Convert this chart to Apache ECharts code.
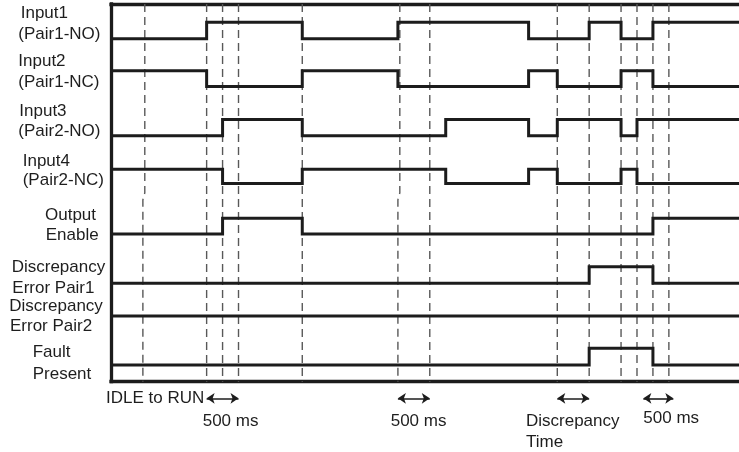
<!DOCTYPE html>
<html>
<head>
<meta charset="utf-8">
<script src="https://cdn.jsdelivr.net/npm/echarts@6/dist/echarts.min.js"></script>
<style>
html,body{margin:0;padding:0;background:#fff;}
#chart{width:739px;height:452px;}
</style>
</head>
<body>
<div id="chart"></div>
<script>
// ---- Data (times in ms) ----
const timeEnd = 9850;
const signalLabels = [
  ['Input1', '(Pair1-NO)'],
  ['Input2', '(Pair1-NC)'],
  ['Input3', '(Pair2-NO)'],
  ['Input4', '(Pair2-NC)'],
  ['Output', 'Enable'],
  ['Discrepancy', 'Error Pair1'],
  ['Discrepancy', 'Error Pair2'],
  ['Fault', 'Present']
];
const input1Start = 0;
const input1Edges = [1500, 3000, 4500, 6550, 7500, 8000, 8500];
const input2Start = 1;
const input2Edges = [1500, 3000, 4500, 6550, 7000, 8000, 8500];
const input3Start = 0;
const input3Edges = [1750, 3000, 5250, 6550, 7000, 8000, 8250];
const input4Start = 1;
const input4Edges = [1750, 3000, 5250, 6550, 7000, 8000, 8250];
const outputStart = 0;
const outputEdges = [1750, 3000, 8500];
const discPair1Start = 0;
const discPair1Edges = [7500, 8500];
const discPair2Start = 0;
const discPair2Edges = [];
const faultStart = 0;
const faultEdges = [7500, 8500];

const markerTimes = [500, 1500, 1750, 2000, 3000, 4500, 5000, 7000, 7500, 8000, 8250, 8500, 8750];
const brokenMarkerTimes = [500, 4500];
const spanArrows = [[1500, 2000], [4500, 5000], [7000, 7500], [8350, 8820]];
const spanTexts = [
  ['IDLE to RUN'],
  ['500 ms'],
  ['500 ms'],
  ['Discrepancy', 'Time'],
  ['500 ms']
];

// ---- Layout ----
const lanes = [[21.43, 22.46], [18.44, 19.43], [15.36, 16.38], [12.38, 13.28],
               [9.23, 10.21], [6.15, 7.19], [4.11, 5.1], [1.04, 2.09]];
const yTop = 23.6;
const ink = '#1c1c1c';
const font = '17px "Liberation Sans", Arial, sans-serif';

const signals = [
  [input1Start, input1Edges], [input2Start, input2Edges], [input3Start, input3Edges],
  [input4Start, input4Edges], [outputStart, outputEdges], [discPair1Start, discPair1Edges],
  [discPair2Start, discPair2Edges], [faultStart, faultEdges]
];

function wave(start, edges, lane) {
  const pts = [];
  let lvl = start;
  pts.push([0, lane[lvl]]);
  edges.forEach(t => {
    pts.push([t, lane[lvl]]);
    lvl = 1 - lvl;
    pts.push([t, lane[lvl]]);
  });
  pts.push([timeEnd, lane[lvl]]);
  return pts;
}

const series = [];
const dashStyle = { color: '#585858', width: 1.4, type: [8, 5] };
markerTimes.forEach(t => {
  let data;
  if (brokenMarkerTimes.indexOf(t) >= 0) {
    data = [[t + 30, yTop], [t + 30, 11.8], [t, 11.36], [t, 0]];
  } else {
    data = [[t, yTop], [t, 0]];
  }
  series.push({
    type: 'line', data: data, showSymbol: false, silent: true, z: 1,
    lineStyle: dashStyle, animation: false
  });
});
signals.forEach((s, i) => {
  series.push({
    type: 'line', data: wave(s[0], s[1], lanes[i]), showSymbol: false, silent: true, z: 3,
    lineStyle: { color: ink, width: 3, join: 'miter', cap: 'butt' }, animation: false
  });
});
series.push({
  type: 'lines', coordinateSystem: 'cartesian2d', clip: false, silent: true, z: 3,
  symbol: ['arrow', 'arrow'], symbolSize: 8,
  lineStyle: { color: ink, width: 1.6, opacity: 1 },
  data: spanArrows.map(a => ({ coords: [[a[0], -1.04], [a[1], -1.04]] })),
  animation: false
});

// label graphics
const labelPos = [
  [[20.7, 13.3], [18.3, 34.2]],
  [[18.3, 61], [18.3, 82]],
  [[19.3, 111.7], [18.3, 131]],
  [[22.7, 161], [22.7, 180]],
  [[45, 215.5], [45.7, 235.5]],
  [[11.7, 267.5], [12.3, 288.7]],
  [[9.3, 306], [10, 326]],
  [[32.7, 352.5], [32.7, 374]]
];
const spanTextPos = [
  [[106, 398.3]],
  [[202.7, 421.3]],
  [[390.7, 421.7]],
  [[526, 421], [526, 442]],
  [[643.3, 418.5]]
];
const graphics = [];
function addText(str, p) {
  graphics.push({
    type: 'text', x: p[0], y: p[1], silent: true,
    style: { text: str, fill: '#1e1e1e', font: font, align: 'left', verticalAlign: 'middle' }
  });
}
signalLabels.forEach((lines, i) => lines.forEach((str, j) => addText(str, labelPos[i][j])));
spanTexts.forEach((lines, i) => lines.forEach((str, j) => addText(str, spanTextPos[i][j])));

const axisLineStyle = { color: ink, width: 3.3, cap: 'square' };
const chart = echarts.init(document.getElementById('chart'), null, { renderer: 'canvas' });
chart.setOption({
  animation: false,
  backgroundColor: '#fff',
  grid: { left: 111, right: 0, top: 4, bottom: 70.3, containLabel: false },
  xAxis: [
    { type: 'value', min: 0, max: timeEnd, position: 'bottom',
      axisLine: { show: true, onZero: false, lineStyle: axisLineStyle },
      axisTick: { show: false }, axisLabel: { show: false }, splitLine: { show: false } },
    { type: 'value', min: 0, max: timeEnd, position: 'top',
      axisLine: { show: true, onZero: false, lineStyle: axisLineStyle },
      axisTick: { show: false }, axisLabel: { show: false }, splitLine: { show: false } }
  ],
  yAxis: {
    type: 'value', min: 0, max: yTop,
    axisLine: { show: true, onZero: false, lineStyle: axisLineStyle },
    axisTick: { show: false }, axisLabel: { show: false }, splitLine: { show: false }
  },
  series: series,
  graphic: graphics
});
</script>
</body>
</html>
